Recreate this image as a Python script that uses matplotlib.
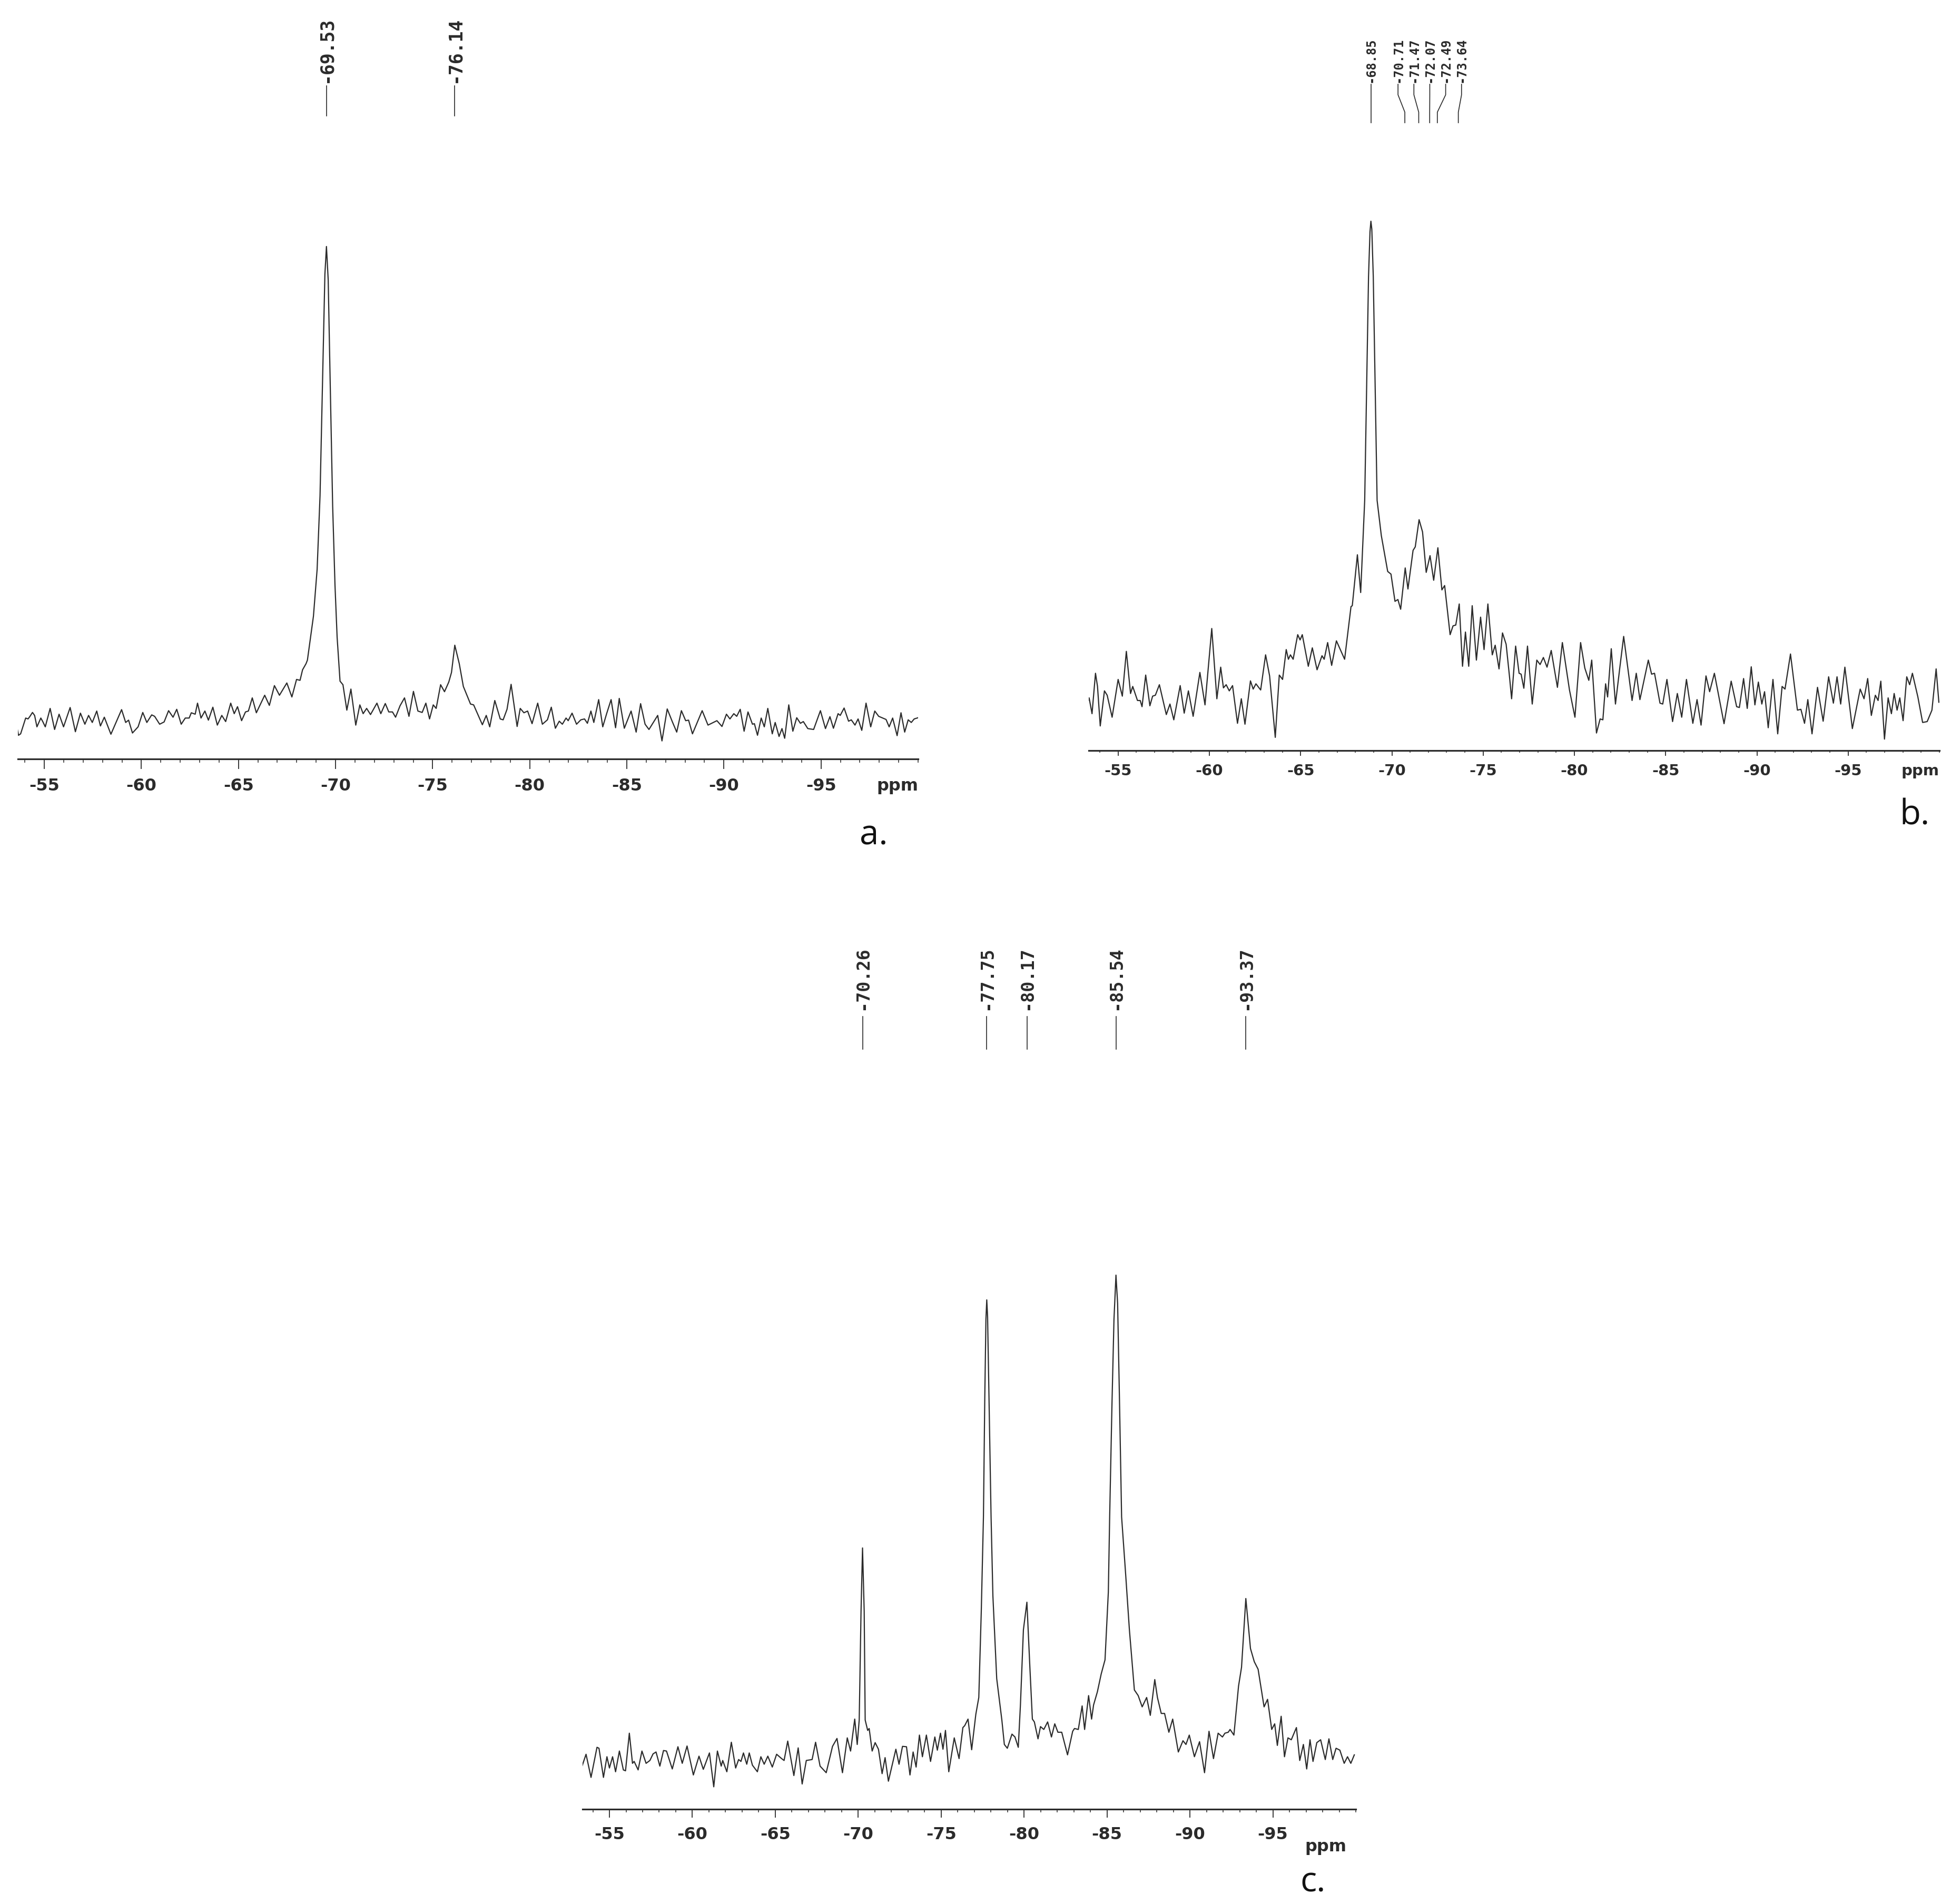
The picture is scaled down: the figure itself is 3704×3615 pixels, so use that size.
import matplotlib
matplotlib.use("Agg")
import numpy as np
import matplotlib.pyplot as plt
from matplotlib.ticker import FixedLocator, MultipleLocator, FuncFormatter

# ---------------- data (chemical shift in ppm, intensity in a.u.) ----------------
# spectrum a.
ppm_a = [-53.58, -53.67, -53.78, -54.04, -54.16, -54.25, -54.39, -54.50, -54.62, -54.82,
         -54.92, -55.05, -55.30, -55.53, -55.76, -55.99, -56.33, -56.60, -56.86, -57.09,
         -57.28, -57.47, -57.70, -57.89, -58.09, -58.43, -58.98, -59.19, -59.34, -59.54,
         -59.83, -60.07, -60.28, -60.53, -60.68, -60.94, -61.17, -61.40, -61.63, -61.82,
         -62.05, -62.26, -62.46, -62.57, -62.77, -62.89, -63.07, -63.27, -63.45, -63.68,
         -63.91, -64.14, -64.34, -64.60, -64.78, -64.95, -65.16, -65.36, -65.51, -65.71,
         -65.92, -66.35, -66.59, -66.85, -67.11, -67.49, -67.75, -67.99, -68.17, -68.30,
         -68.48, -68.55, -68.71, -68.86, -69.05, -69.20, -69.33, -69.45, -69.53, -69.62,
         -69.72, -69.85, -69.97, -70.08, -70.23, -70.38, -70.58, -70.79, -71.04, -71.25,
         -71.42, -71.60, -71.80, -72.13, -72.33, -72.56, -72.74, -72.93, -73.09, -73.32,
         -73.55, -73.78, -74.01, -74.24, -74.46, -74.65, -74.84, -75.03, -75.18, -75.41,
         -75.61, -75.83, -75.97, -76.14, -76.37, -76.58, -76.95, -77.11, -77.33, -77.56,
         -77.76, -77.94, -78.20, -78.48, -78.63, -78.83, -79.04, -79.35, -79.51, -79.70,
         -79.89, -80.12, -80.41, -80.65, -80.91, -81.11, -81.32, -81.52, -81.68, -81.87,
         -81.98, -82.18, -82.41, -82.63, -82.82, -82.97, -83.15, -83.30, -83.55, -83.76,
         -83.96, -84.19, -84.42, -84.61, -84.87, -85.22, -85.48, -85.71, -85.94, -86.14,
         -86.59, -86.81, -87.08, -87.34, -87.57, -87.81, -88.03, -88.18, -88.38, -88.88,
         -89.18, -89.64, -89.90, -90.13, -90.31, -90.51, -90.66, -90.84, -91.04, -91.24,
         -91.47, -91.57, -91.73, -91.92, -92.08, -92.26, -92.49, -92.64, -92.84, -92.99,
         -93.13, -93.34, -93.55, -93.75, -93.94, -94.09, -94.32, -94.62, -94.97, -95.23,
         -95.46, -95.64, -95.88, -95.99, -96.19, -96.42, -96.56, -96.75, -96.91, -97.10,
         -97.32, -97.56, -97.77, -97.97, -98.35, -98.51, -98.69, -98.92, -99.12, -99.31,
         -99.49, -99.65, -99.80, -100.0]
int_a = [62.7, 45, 47.7, 77.7, 76, 80.3, 88.3, 82.7, 61, 77.7,
         71, 61, 96, 56, 85, 61, 97.7, 51.7, 87, 66,
         82.7, 69.3, 91, 62.7, 79.3, 47, 93.7, 69.3, 73.7, 49.3,
         61, 88.3, 69.3, 83.7, 81, 66, 70.3, 91.7, 79.3, 94.3,
         66, 77.7, 77.7, 87.7, 85, 106, 77.7, 91, 73.7, 98.3,
         64.3, 82.7, 71, 106, 86, 99.3, 72.7, 89.3, 91, 116,
         87.7, 121, 101.7, 139.3, 121, 144.3, 117.7, 151, 149.3, 169.3,
         181, 187.7, 231, 271, 360, 500, 720, 920, 973, 910,
         720, 480, 330, 231, 147.7, 141, 92.7, 132.7, 64.3, 102.7,
         86, 96, 84.3, 106, 86, 105.3, 89.3, 89.3, 79.3, 101,
         116, 81, 128.3, 91, 88.3, 106, 76, 102.7, 96, 141,
         127.7, 146, 164.3, 216, 181, 137.7, 104.3, 102.7, 84.3, 65,
         82.7, 61, 111, 76, 74.3, 94.3, 141.7, 61.7, 96, 87.7,
         91, 67, 106, 66, 74.3, 98.3, 58.3, 71.7, 66, 77.7,
         72.7, 87, 66, 74.3, 76, 67.7, 91, 69.3, 112.7, 61,
         86, 112.7, 59.3, 115, 58.3, 91, 51, 105, 66, 56,
         82.7, 34.3, 95, 71, 51, 91.7, 72.7, 73.7, 47.7, 91.7,
         64.3, 72.7, 61.7, 85, 76, 86, 81, 94.3, 52.7, 89.3,
         66, 67, 45, 77.7, 61, 96, 47.7, 69.3, 42.7, 57.7,
         39.3, 102.7, 52.7, 78.3, 67.7, 71, 57.7, 56, 91.7, 57.7,
         80.3, 58.3, 86, 82.7, 96.7, 71.7, 74.3, 64.3, 76, 54.3,
         106, 61, 91, 81, 75, 61, 77.7, 44.3, 87.7, 51,
         74.3, 69.3, 76, 78.3]
peaks_a = [-69.53, -76.14]

# spectrum b.
ppm_b = [-53.34, -53.41, -53.57, -53.76, -53.87, -54.02, -54.25, -54.40, -54.67, -55.00,
         -55.23, -55.45, -55.68, -55.80, -56.06, -56.21, -56.31, -56.51, -56.74, -56.89,
         -57.04, -57.26, -57.64, -57.84, -58.05, -58.40, -58.62, -58.85, -59.11, -59.48,
         -59.76, -60.13, -60.41, -60.62, -60.77, -60.92, -61.09, -61.27, -61.54, -61.75,
         -61.95, -62.25, -62.40, -62.55, -62.81, -63.08, -63.30, -63.61, -63.83, -64.01,
         -64.21, -64.33, -64.44, -64.59, -64.74, -64.84, -64.97, -65.09, -65.42, -65.64,
         -65.90, -66.17, -66.29, -66.48, -66.70, -66.96, -67.41, -67.76, -67.83, -68.11,
         -68.29, -68.51, -68.62, -68.72, -68.80, -68.85, -68.90, -68.98, -69.08, -69.19,
         -69.42, -69.77, -69.95, -70.17, -70.33, -70.48, -70.73, -70.88, -71.16, -71.28,
         -71.49, -71.68, -71.88, -72.09, -72.29, -72.52, -72.74, -72.89, -73.19, -73.35,
         -73.50, -73.69, -73.87, -74.03, -74.21, -74.40, -74.63, -74.86, -75.05, -75.26,
         -75.50, -75.66, -75.87, -76.06, -76.26, -76.44, -76.56, -76.78, -76.97, -77.08,
         -77.23, -77.43, -77.69, -77.94, -78.12, -78.30, -78.50, -78.73, -79.07, -79.34,
         -79.73, -80.03, -80.34, -80.57, -80.79, -80.95, -81.21, -81.41, -81.56, -81.71,
         -81.82, -82.02, -82.25, -82.48, -82.70, -83.16, -83.39, -83.59, -84.05, -84.23,
         -84.39, -84.69, -84.84, -85.07, -85.38, -85.64, -85.88, -86.14, -86.49, -86.72,
         -86.94, -87.21, -87.41, -87.67, -88.20, -88.59, -88.89, -89.04, -89.27, -89.47,
         -89.69, -89.89, -90.08, -90.27, -90.42, -90.62, -90.88, -91.14, -91.38, -91.54,
         -91.84, -92.22, -92.41, -92.61, -92.79, -93.02, -93.32, -93.63, -93.93, -94.19,
         -94.39, -94.59, -94.82, -95.23, -95.66, -95.87, -96.07, -96.27, -96.49, -96.64,
         -96.79, -96.99, -97.19, -97.37, -97.52, -97.68, -97.83, -98.01, -98.21, -98.37,
         -98.52, -98.82, -99.08, -99.33, -99.59, -99.82, -99.97]
int_b = [91.7, 100, 70, 146.7, 121.7, 46.7, 113.3, 105, 63.3, 135,
         103.3, 188.3, 108.3, 121.7, 95, 95, 83.3, 143.3, 85, 103.3,
         105, 125, 68.3, 88.3, 58.3, 123.3, 71, 113.3, 65, 148.3,
         86.7, 231.7, 98.3, 158.3, 119, 125, 113.3, 123.3, 51.7, 98.3,
         50, 132.3, 116.7, 126.7, 115, 181.7, 141.7, 25, 143.3, 135,
         191.7, 173.3, 181.7, 173.3, 201.7, 220, 210, 220, 160, 195,
         153.3, 180, 173.3, 205, 161.7, 208.3, 173.3, 273.3, 275, 371.7,
         300, 475, 700, 900, 985, 1005, 990, 900, 700, 475,
         408.3, 340, 335, 283.3, 286.7, 268.3, 346.7, 306.7, 380, 386.7,
         438.3, 415, 338.3, 370, 323.3, 385, 305, 313.3, 220, 236.7,
         238.3, 278.3, 160, 225, 160, 275, 171.7, 253.3, 191.7, 278.3,
         181.7, 200, 155, 223.3, 201.7, 141.7, 98.3, 198.3, 146.7, 145,
         118.3, 198.3, 88.3, 171.7, 163.3, 176.7, 158.3, 190, 120, 205,
         115, 63.3, 205, 156.7, 133.3, 171.7, 33.3, 60, 58.3, 126.7,
         101.7, 193.3, 88.3, 155, 216.7, 95, 146.7, 96.7, 171.7, 145,
         146.7, 90, 88.3, 135, 55, 108.3, 63.3, 135, 51.7, 96.7,
         48.3, 141.7, 111.7, 146.7, 51, 131.7, 83.3, 81.7, 136.7, 80,
         159, 86.7, 130, 88.3, 111.7, 43.3, 135, 31.7, 121.7, 116.7,
         183.3, 76.7, 78.3, 51.7, 96.7, 31.7, 120, 55.7, 140, 90,
         140, 88.3, 158.3, 41.7, 116.7, 98.3, 136.7, 66.7, 105, 95,
         131.7, 21.7, 100, 70, 108.3, 76.7, 100, 56.7, 140, 125,
         146.7, 101.7, 53.3, 55, 76.7, 155, 91.7]
peaks_b = [-68.85, -70.71, -71.47, -72.07, -72.49, -73.64]

# spectrum c.
ppm_c = [-53.35, -53.59, -53.89, -54.25, -54.37, -54.64, -54.85, -55.00, -55.19, -55.37,
         -55.60, -55.84, -55.97, -56.20, -56.39, -56.49, -56.73, -56.96, -57.21, -57.44,
         -57.63, -57.81, -58.04, -58.26, -58.44, -58.79, -59.13, -59.39, -59.68, -60.06,
         -60.40, -60.66, -61.03, -61.29, -61.51, -61.74, -61.83, -62.08, -62.35, -62.61,
         -62.79, -62.93, -63.08, -63.28, -63.43, -63.62, -63.92, -64.13, -64.33, -64.55,
         -64.82, -65.08, -65.38, -65.53, -65.75, -66.12, -66.38, -66.62, -66.87, -67.22,
         -67.43, -67.70, -68.07, -68.45, -68.72, -69.05, -69.34, -69.54, -69.79, -69.94,
         -70.06, -70.17, -70.26, -70.36, -70.42, -70.57, -70.66, -70.84, -71.02, -71.22,
         -71.44, -71.62, -71.82, -72.27, -72.46, -72.67, -72.91, -73.12, -73.31, -73.49,
         -73.69, -73.87, -74.11, -74.36, -74.62, -74.77, -74.96, -75.11, -75.26, -75.46,
         -75.79, -76.08, -76.31, -76.42, -76.62, -76.84, -77.09, -77.27, -77.42, -77.55,
         -77.63, -77.70, -77.75, -77.80, -77.88, -78.01, -78.12, -78.35, -78.66, -78.81,
         -78.99, -79.27, -79.45, -79.65, -79.78, -79.96, -80.17, -80.35, -80.50, -80.62,
         -80.84, -80.99, -81.19, -81.42, -81.65, -81.85, -82.04, -82.27, -82.62, -82.93,
         -83.04, -83.27, -83.50, -83.65, -83.89, -84.07, -84.19, -84.42, -84.65, -84.88,
         -85.08, -85.16, -85.30, -85.42, -85.54, -85.64, -85.75, -85.88, -86.12, -86.35,
         -86.65, -86.88, -87.12, -87.39, -87.61, -87.88, -88.04, -88.27, -88.47, -88.73,
         -88.96, -89.30, -89.58, -89.76, -89.96, -90.27, -90.58, -90.88, -91.15, -91.42,
         -91.70, -91.96, -92.11, -92.31, -92.42, -92.65, -92.93, -93.11, -93.37, -93.65,
         -93.88, -94.11, -94.47, -94.68, -94.93, -95.11, -95.27, -95.50, -95.70, -95.91,
         -96.11, -96.42, -96.62, -96.84, -97.04, -97.24, -97.42, -97.65, -97.88, -98.16,
         -98.38, -98.61, -98.81, -99.04, -99.30, -99.50, -99.70, -99.91]
int_c = [81.8, 104.3, 60.4, 117.5, 115.7, 60.4, 99.6, 78.2, 99.6, 71.1,
         110.4, 74.6, 72.9, 144.3, 87.1, 90.7, 74.6, 110.4, 87.1, 92.5,
         105, 108.6, 81.8, 111.4, 110.4, 76.4, 118.6, 87.1, 120, 65,
         100.7, 75.7, 106.8, 42.5, 110.4, 81.8, 92.5, 71.1, 127.1, 78.2,
         94.3, 90.7, 106.8, 85.4, 106.8, 83.6, 71.1, 99.6, 85.4, 100.7,
         80, 104.3, 96.1, 92.5, 129.3, 63.9, 116.4, 47.9, 92.5, 94.3,
         127.1, 81.8, 69.3, 119.3, 134.3, 69.3, 135.4, 110.4, 171.1, 122.9,
         169.3, 376, 496, 376, 169.3, 149.6, 153.2, 110.4, 126.4, 113.9,
         67.5, 97.9, 53.2, 113.9, 85.4, 119.3, 118.6, 65, 108.6, 80,
         140.7, 99.6, 140.7, 90.7, 137.1, 112.1, 144.3, 113.9, 149.6, 71.1,
         135.4, 96.1, 155, 158.6, 171.1, 112.9, 180, 212.1, 376.4, 555,
         780, 930, 967, 935, 790, 555, 405, 247.9, 169.3, 122.9,
         115.7, 142.5, 137.1, 117.5, 197.9, 340.7, 393, 269.3, 171.1, 165.7,
         133.6, 156.8, 151.4, 165.7, 137.1, 162.1, 146.1, 146.1, 103.2, 147.9,
         153.2, 151.4, 196.1, 151.4, 215.7, 171.1, 197.9, 222.9, 256.8, 283.6,
         412.1, 555, 770, 930, 1014, 960, 780, 555, 447.9, 340.7,
         226.4, 215.7, 194.3, 212.1, 178.2, 246.1, 212.1, 181.8, 181.8, 146.1,
         171.1, 108.6, 130, 122.9, 140.7, 99.6, 128.2, 69.3, 147.9, 96.1,
         144.3, 137.1, 144.3, 146.1, 151.4, 140.7, 233.6, 269.3, 400, 305,
         280, 265.7, 194.3, 208.6, 151.4, 162.1, 121.1, 176.4, 99.6, 135.4,
         131.8, 155, 92.5, 122.9, 76.4, 131.8, 90.7, 126.4, 131.8, 94.3,
         133.6, 94.3, 115.7, 112.1, 87.1, 99.6, 87.1, 103.2]
peaks_c = [-70.26, -77.75, -80.17, -85.54, -93.37]

major_ticks = [-55, -60, -65, -70, -75, -80, -85, -90, -95]

# ---------------- figure ----------------
W, H = 3704, 3615
DPI = 100
plt.rcParams['axes.unicode_minus'] = False
fig = plt.figure(figsize=(W / DPI, H / DPI), dpi=DPI)
INK = '#2b2b2b'


def px_rect(x0, x1, y_axis, y_top):
    # pixel box -> figure fraction
    return [x0 / W, 1 - y_axis / H, (x1 - x0) / W, (y_axis - y_top) / H]


def spread_labels(peaks, gap):
    # push crowded labels apart, centred on each crowd
    groups = [[p] for p in peaks]

    def pos(g):
        c = np.mean(g)
        n = len(g)
        return [c + gap * ((n - 1) / 2 - i) for i in range(n)]

    changed = True
    while changed:
        changed = False
        for i in range(len(groups) - 1):
            if pos(groups[i])[-1] - pos(groups[i + 1])[0] < gap:
                groups[i] = groups[i] + groups.pop(i + 1)
                changed = True
                break
    out = []
    for g in groups:
        out += pos(g)
    return out


def draw_panel(rect, ppm, inten, peaks, left, ytop, lab, tick_len, pad, fs_tick,
               fs_lab, ppm_shift=(0, 0)):
    ax = fig.add_axes(rect)
    ax.patch.set_visible(False)
    ax.plot(ppm, inten, color=INK, lw=1.6, solid_joinstyle='round')
    ax.set_xlim(left, -100)
    ax.set_ylim(0, ytop)
    for s in ['top', 'left', 'right']:
        ax.spines[s].set_visible(False)
    ax.spines['bottom'].set_linewidth(2.3)
    ax.spines['bottom'].set_color(INK)
    ax.set_yticks([])
    ax.xaxis.set_major_locator(FixedLocator(major_ticks))
    ax.xaxis.set_minor_locator(MultipleLocator(1))
    ax.xaxis.set_major_formatter(FuncFormatter(lambda v, p: "%d" % v))
    ax.tick_params(axis='x', which='major', length=tick_len, width=1.3, color=INK,
                   pad=pad, labelsize=fs_tick, labelcolor=INK)
    ax.tick_params(axis='x', which='minor', length=tick_len * 0.35, width=1.1, color=INK)
    for t in ax.get_xticklabels():
        t.set_fontweight('bold')
    ax.annotate('ppm', xy=(1, 0), xycoords='axes fraction',
                xytext=(ppm_shift[0], -(tick_len + pad) + ppm_shift[1]),
                textcoords='offset points', ha='right', va='top',
                fontsize=fs_tick, fontweight='bold', color=INK)

    # peak labels
    y0, y1, y2, y3, ytxt = lab
    for p, lx in zip(peaks, spread_labels(peaks, 0.87)):
        ax.plot([p, p, lx, lx], [y0, y1, y2, y3], color=INK, lw=1.2, clip_on=False)
        ax.text(lx, ytxt, "%.2f" % p, rotation=90, ha='center', va='bottom',
                family='DejaVu Sans Mono', fontweight='bold', fontsize=fs_lab,
                color=INK)
    return ax


# a.
draw_panel(px_rect(34, 1743, 1441, 0), ppm_a, int_a, peaks_a, -53.64, 1441,
           (1221, 1250, 1260, 1278, 1284), 13.7, 12, 23, 25)
# b.
draw_panel(px_rect(2067, 3682, 1425, 0), ppm_b, int_b, peaks_b, -53.39, 1425,
           (1192, 1212, 1245, 1265, 1268), 7.2, 11, 21, 17)
# c.
draw_panel(px_rect(1106, 2574, 3435, 1750), ppm_c, int_c, peaks_c, -53.38, 1685,
           (1443, 1470, 1480, 1505, 1517), 11.5, 12.5, 23, 24, ppm_shift=(-13, -16))

# panel letters
for txt, x, y in [('a.', 1659, 1603), ('b.', 3635, 1565), ('c.', 2493, 3592)]:
    fig.text(x / W, 1 - y / H, txt, ha='center', va='baseline',
             family='Open Sans', fontsize=47, color='#111111')

fig.savefig('out.png', dpi=DPI, facecolor='white')
